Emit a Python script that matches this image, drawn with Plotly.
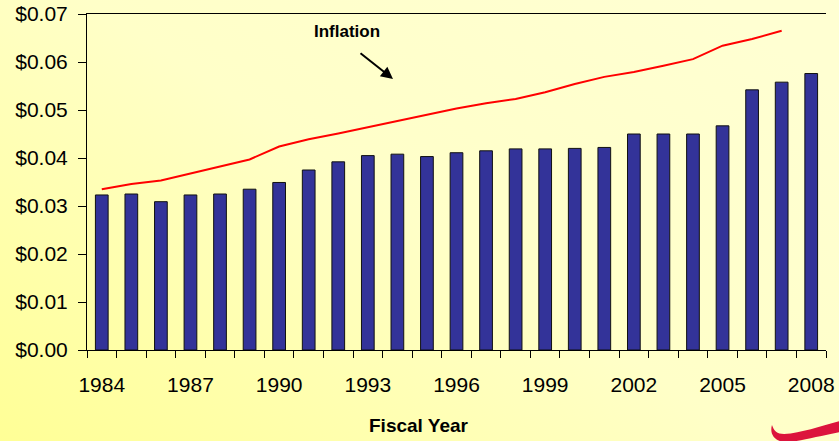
import base64
import plotly.graph_objects as go

# ---- data ----
years = list(range(1984, 2009))
cost = [0.0323, 0.0325, 0.0309, 0.0323, 0.0325, 0.0335, 0.0349, 0.0375, 0.0392,
        0.0405, 0.0408, 0.0403, 0.0411, 0.0415, 0.0419, 0.0419, 0.0420, 0.0422,
        0.0450, 0.0450, 0.0450, 0.0467, 0.0542, 0.0558, 0.0576]
infl_years = list(range(1984, 2008))
inflation = [0.0335, 0.0346, 0.0353, 0.0368, 0.0383, 0.0397, 0.0424, 0.0439, 0.0451,
             0.0464, 0.0476, 0.0489, 0.0503, 0.0514, 0.0523, 0.0537, 0.0554, 0.0569,
             0.0579, 0.0592, 0.0606, 0.0634, 0.0648, 0.0665]
label_years = [1984, 1987, 1990, 1993, 1996, 1999, 2002, 2005, 2008]
boundaries = [y - 0.5 for y in years] + [years[-1] + 0.5]

W, H = 839, 441
L, R, T, B = 87, 13, 14, 91
PW, PH = W - L - R, H - T - B
FONT = "Arial, 'Liberation Sans', sans-serif"

svg = f'''<svg xmlns="http://www.w3.org/2000/svg" width="{W}" height="{H}" preserveAspectRatio="none">
<defs><linearGradient id="g" x1="0" y1="1" x2="1" y2="0.2">
<stop offset="0" stop-color="#FFFF96"/>
<stop offset="0.55" stop-color="#FFFFC8"/>
<stop offset="1" stop-color="#FFFFD2"/>
</linearGradient></defs>
<rect width="{W}" height="{H}" fill="url(#g)"/></svg>'''
bg_uri = "data:image/svg+xml;base64," + base64.b64encode(svg.encode()).decode()

fig = go.Figure()
fig.add_trace(go.Bar(x=years, y=cost, width=0.43,
                     marker=dict(color="#333399", line=dict(color="#111111", width=1)),
                     showlegend=False, hoverinfo="x+y"))
fig.add_trace(go.Scatter(x=infl_years, y=inflation, mode="lines",
                         line=dict(color="#FF0000", width=2),
                         showlegend=False))


def px(xp, yp):
    return (xp - L) / PW, (H - B - yp) / PH


def path(points):
    s = ""
    for cmd, pts in points:
        s += cmd + " " + " ".join(f"{px(a, b)[0]:.4f},{px(a, b)[1]:.4f}" for a, b in pts) + " "
    return s + "Z"


swoosh = path([
    ("M", [(772, 425)]),
    ("C", [(774, 431), (777, 434), (784, 434)]),
    ("C", [(802, 433), (820, 426), (840, 421)]),
    ("L", [(840, 432)]),
    ("C", [(818, 436), (798, 442), (786, 442)]),
    ("C", [(776, 442), (769, 435), (772, 425)]),
])

fig.update_layout(
    width=W, height=H,
    margin=dict(l=L, r=R, t=T, b=B, pad=0, autoexpand=False),
    paper_bgcolor="#FFFFB0",
    plot_bgcolor="rgba(0,0,0,0)",
    font=dict(family=FONT, size=20, color="black"),
    bargap=0.5,
    images=[dict(source=bg_uri, xref="paper", yref="paper",
                 x=-L / PW, y=1 + T / PH, sizex=W / PW, sizey=H / PH,
                 xanchor="left", yanchor="top", sizing="stretch", layer="below")],
    xaxis=dict(range=[boundaries[0], boundaries[-1]], tickmode="array",
               tickvals=label_years, ticktext=[str(y) for y in label_years],
               ticks="", showgrid=False, zeroline=False, automargin=False,
               showline=True, linecolor="black", linewidth=1, mirror=True,
               minor=dict(tickmode="array", tickvals=boundaries, ticks="outside",
                          ticklen=7, tickcolor="black", tickwidth=1, showgrid=False),
               ticklabelstandoff=16,
               tickfont=dict(size=21)),
    xaxis2=dict(range=[boundaries[0], boundaries[-1]], overlaying="x", side="bottom",
                anchor="y", showticklabels=False, ticks="", showgrid=False,
                zeroline=False, showline=False, automargin=False,
                minor=dict(tickmode="array", tickvals=boundaries, ticks="inside",
                           ticklen=7, tickcolor="black", tickwidth=1, showgrid=False)),
    yaxis=dict(range=[0, 0.07], dtick=0.01, tick0=0, tickformat="$.2f",
               ticks="outside", ticklen=8, tickcolor="black", showgrid=False,
               zeroline=False, showline=True, linecolor="black", linewidth=1,
               automargin=False, ticklabelstandoff=6, tickfont=dict(size=21)),
    yaxis2=dict(range=[0, 0.07], dtick=0.01, tick0=0, overlaying="y", side="left",
                anchor="x", ticks="inside", ticklen=8, tickcolor="black",
                showticklabels=False, showgrid=False, zeroline=False, automargin=False,
                showline=True, linecolor="black", linewidth=1, mirror="ticks"),
    annotations=[
        dict(text="<b>Inflation</b>", xref="paper", yref="paper",
             x=px(347, 31)[0], y=px(347, 31)[1], showarrow=False,
             font=dict(size=17, family=FONT), xanchor="center", yanchor="middle"),
        dict(text="", xref="x", yref="y",
             x=1983.5 + (393 - L) / (PW / 25), y=(H - B - 79) / PH * 0.07,
             ax=-34, ay=-27, showarrow=True, arrowhead=2, arrowsize=1.2,
             arrowwidth=2, arrowcolor="black"),
        dict(text="<b>Fiscal Year</b>", xref="paper", yref="paper",
             x=px(419, 425)[0], y=px(419, 425)[1], showarrow=False,
             font=dict(size=19, family=FONT), xanchor="center", yanchor="middle"),
    ],
    shapes=[dict(type="path", path=swoosh, xref="paper", yref="paper",
                 fillcolor="#DC143C", line=dict(width=0), layer="above")],
)

fig.write_html("out.html", config={"displayModeBar": False},
               post_script="document.body.style.margin='0';document.body.style.background='#FFFFB0';")
